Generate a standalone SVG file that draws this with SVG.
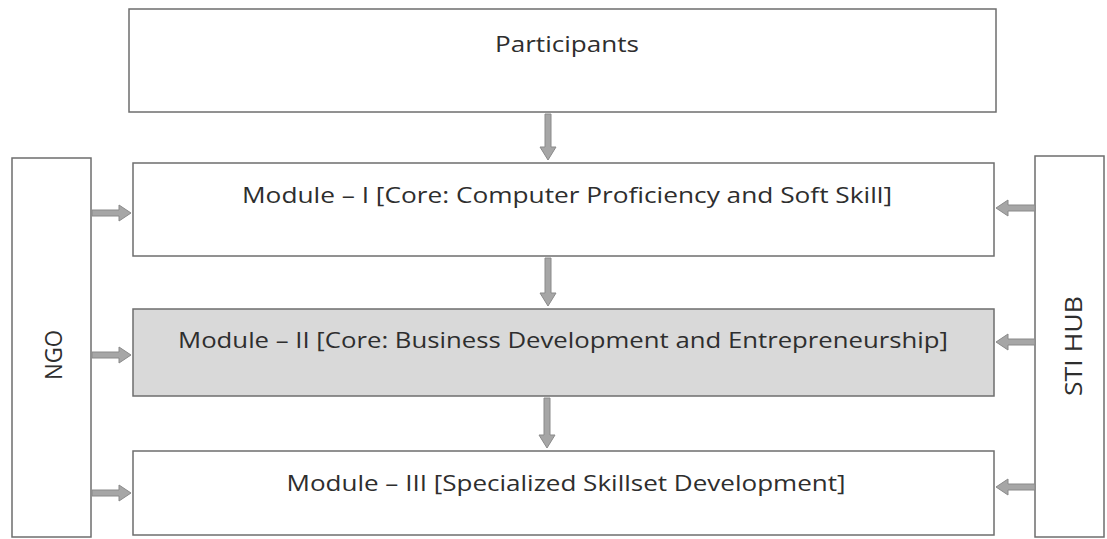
<svg xmlns="http://www.w3.org/2000/svg" width="1107" height="539" viewBox="0 0 1107 539">
<style>
.box{fill:#ffffff;stroke:#6e6e6e;stroke-width:1.5}
.gray{fill:#d9d9d9}
.t{font-family:"Open Sans","Noto Sans",sans-serif;font-size:22px;fill:#2e2e2e;text-anchor:middle}
.v{font-size:24px}
.arr{fill:#a6a6a6;stroke:#8a8a8a;stroke-width:1}
</style>
<rect width="1107" height="539" fill="#ffffff"/>
<g id="participants">
<rect class="box" x="129" y="9" width="867" height="103"/>
<text class="t" x="567" y="52" textLength="144" lengthAdjust="spacingAndGlyphs">Participants</text>
</g>
<g id="module1">
<rect class="box" x="133" y="163" width="861" height="93"/>
<text class="t" x="567" y="203" textLength="650" lengthAdjust="spacingAndGlyphs">Module – I [Core: Computer Proficiency and Soft Skill]</text>
</g>
<g id="module2">
<rect class="box gray" x="133" y="309" width="861" height="87"/>
<text class="t" x="563" y="348" textLength="770" lengthAdjust="spacingAndGlyphs">Module – II [Core: Business Development and Entrepreneurship]</text>
</g>
<g id="module3">
<rect class="box" x="133" y="451" width="861" height="84"/>
<text class="t" x="566" y="491" textLength="559" lengthAdjust="spacingAndGlyphs">Module – III [Specialized Skillset Development]</text>
</g>
<g id="ngo">
<rect class="box" x="12" y="158" width="79" height="379"/>
<text class="t v" transform="translate(62,355) rotate(-90)" textLength="50" lengthAdjust="spacingAndGlyphs">NGO</text>
</g>
<g id="stihub">
<rect class="box" x="1035" y="156" width="69" height="381"/>
<text class="t v" transform="translate(1082,346) rotate(-90)" textLength="100" lengthAdjust="spacingAndGlyphs">STI HUB</text>
</g>
<g id="connectors">
<polygon class="arr" points="545,114 551,114 551,147 556,147 548,160 540,147 545,147"/>
<polygon class="arr" points="545,258 551,258 551,293 556,293 548,306 540,293 545,293"/>
<polygon class="arr" points="544,398 550,398 550,435 555,435 547,448 539,435 544,435"/>
<polygon class="arr" points="92,210 119,210 119,205 131,213 119,221 119,216 92,216"/>
<polygon class="arr" points="92,352 119,352 119,347 131,355 119,363 119,358 92,358"/>
<polygon class="arr" points="92,490 119,490 119,485 131,493 119,501 119,496 92,496"/>
<polygon class="arr" points="1035,205 1008,205 1008,200 996,208 1008,216 1008,211 1035,211"/>
<polygon class="arr" points="1035,339 1008,339 1008,334 996,342 1008,350 1008,345 1035,345"/>
<polygon class="arr" points="1035,484 1008,484 1008,479 996,487 1008,495 1008,490 1035,490"/>
</g>
</svg>
